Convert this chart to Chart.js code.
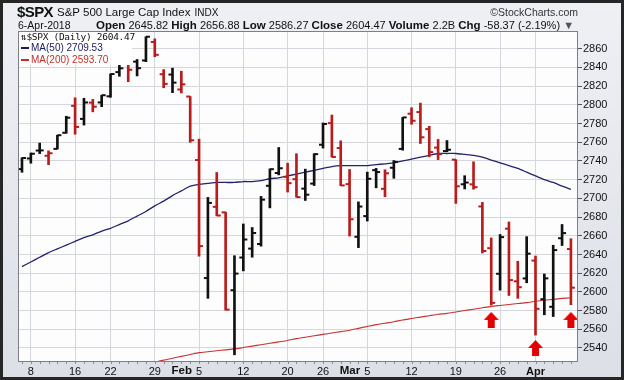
<!DOCTYPE html>
<html>
<head>
<meta charset="utf-8">
<script src="https://cdn.jsdelivr.net/npm/chart.js@4.4.0/dist/chart.umd.min.js"></script>
<style>
body { margin: 0; background: #fff; }
#wrap { position: relative; width: 624px; height: 380px; overflow: hidden;
  background: linear-gradient(#eef0f4, #dcdfe6); box-shadow: inset 0 0 0 3px #262626;
  font-family: "Liberation Sans", Arial, sans-serif; color: #111; }
canvas { position: absolute; left: 0; top: 0; }
.t { position: absolute; white-space: nowrap; }
#sym { left: 17px; top: 3px; font-size: 15px; font-weight: bold; letter-spacing: -0.6px; }
#name { left: 57px; top: 6px; font-size: 11.5px; }
#name span { font-size: 10px; margin-left: 4px; }
#copy { right: 46px; top: 6px; font-size: 10.5px; color: #333; }
#date { left: 18px; top: 19px; font-size: 10.5px; }
#quote { left: 96px; top: 19px; font-size: 11px; }
#quote b { font-size: 11.5px; }
#leg { left: 19px; top: 32px; width: 113px; height: 33px; background: #fff; }
.row { position: absolute; left: 2px; white-space: nowrap; font-size: 10px; }
.row i { display: inline-block; width: 8px; height: 2px; vertical-align: middle; margin-right: 2px; }
#r1 { top: -1px; font-family: "DejaVu Sans Mono", monospace; font-size: 9.5px; letter-spacing: -0.3px; }
#r2 { top: 10px; color: #1c1c5c; }
#r3 { top: 22px; color: #c03030; }
</style>
</head>
<body>
<div id="wrap">
  <canvas id="spx" width="624" height="380"></canvas>
  <div class="t" id="sym">$SPX</div>
  <div class="t" id="name">S&amp;P 500 Large Cap Index<span>INDX</span></div>
  <div class="t" id="copy">&copy;StockCharts.com</div>
  <div class="t" id="date">6-Apr-2018</div>
  <div class="t" id="quote"><b>Open</b> 2645.82 <b>High</b> 2656.88 <b>Low</b> 2586.27 <b>Close</b> 2604.47 <b>Volume</b> 2.2B <b>Chg</b> -58.37 (-2.19%) <span style="color:#555">&#9660;</span></div>
  <div class="t" id="leg">
    <div class="row" id="r1">&#8645;$SPX (Daily) 2604.47</div>
    <div class="row" id="r2"><i style="background:#1c1c5c"></i>MA(50) 2709.53</div>
    <div class="row" id="r3"><i style="background:#c03030"></i>MA(200) 2593.70</div>
  </div>
</div>
<script>
// trading days shown
const days = ['Jan 5','Jan 8','Jan 9','Jan 10','Jan 11','Jan 12','Jan 16','Jan 17','Jan 18','Jan 19',
  'Jan 22','Jan 23','Jan 24','Jan 25','Jan 26','Jan 29','Jan 30','Jan 31','Feb 1','Feb 2',
  'Feb 5','Feb 6','Feb 7','Feb 8','Feb 9','Feb 12','Feb 13','Feb 14','Feb 15','Feb 16',
  'Feb 20','Feb 21','Feb 22','Feb 23','Feb 26','Feb 27','Feb 28','Mar 1','Mar 2',
  'Mar 5','Mar 6','Mar 7','Mar 8','Mar 9','Mar 12','Mar 13','Mar 14','Mar 15','Mar 16',
  'Mar 19','Mar 20','Mar 21','Mar 22','Mar 23','Mar 26','Mar 27','Mar 28','Mar 29',
  'Apr 2','Apr 3','Apr 4','Apr 5','Apr 6'];

const opens = [2731.33,2742.67,2751.15,2745.55,2752.97,2770.18,2798.96,2784.99,2802.40,2802.60,
  2809.16,2835.05,2845.42,2846.24,2847.48,2867.23,2832.74,2832.41,2816.45,2808.92,
  2741.06,2614.78,2690.95,2685.01,2601.78,2636.75,2646.27,2651.21,2713.46,2727.14,
  2722.99,2720.53,2710.42,2715.80,2757.37,2780.45,2753.78,2715.22,2658.89,
  2681.06,2730.18,2710.18,2732.75,2752.91,2790.54,2792.31,2774.06,2754.27,2750.57,
  2741.38,2715.05,2714.99,2691.36,2646.71,2619.35,2667.57,2611.30,2614.41,
  2633.45,2592.17,2584.04,2657.36,2645.82];
const highs = [2743.45,2748.51,2759.14,2750.80,2767.56,2787.85,2807.54,2807.04,2805.83,2810.33,
  2833.03,2842.24,2852.97,2848.56,2872.87,2870.62,2837.75,2839.26,2835.96,2808.92,
  2763.39,2701.04,2727.67,2685.27,2638.67,2672.61,2668.84,2702.10,2731.51,2754.42,
  2737.60,2747.75,2731.26,2747.76,2780.64,2789.15,2761.52,2730.89,2696.25,
  2728.09,2732.08,2730.60,2740.45,2786.57,2796.98,2801.90,2777.11,2763.03,2761.85,
  2741.38,2724.22,2739.14,2695.68,2657.67,2661.36,2674.78,2632.65,2659.07,
  2638.30,2619.14,2649.86,2672.08,2656.88];
const lows = [2727.92,2737.60,2747.86,2736.06,2752.78,2769.64,2768.64,2778.38,2792.56,2798.08,
  2808.12,2830.59,2824.81,2830.94,2846.18,2851.48,2818.27,2813.04,2812.70,2759.97,
  2638.17,2593.07,2681.33,2580.56,2532.69,2622.45,2637.08,2648.87,2689.82,2725.11,
  2706.76,2701.29,2697.77,2713.74,2753.78,2744.22,2713.54,2659.65,2647.32,
  2675.75,2711.26,2701.74,2721.49,2751.54,2779.26,2758.68,2744.38,2741.47,2749.97,
  2694.59,2710.05,2709.79,2641.59,2585.89,2601.81,2596.12,2593.06,2609.72,
  2553.80,2575.49,2573.61,2649.58,2586.27];
const closes = [2743.15,2747.71,2751.29,2748.23,2767.56,2786.24,2776.42,2802.56,2798.03,2810.30,
  2832.97,2839.13,2837.54,2839.25,2872.87,2853.53,2822.43,2823.81,2821.98,2762.13,
  2648.94,2695.14,2681.66,2581.00,2619.55,2656.00,2662.94,2698.63,2731.20,2732.22,
  2716.26,2701.33,2703.96,2747.30,2779.60,2744.28,2713.83,2677.67,2691.25,
  2720.94,2728.12,2726.80,2738.97,2786.57,2783.02,2765.31,2749.48,2747.33,2752.01,
  2712.92,2716.94,2711.93,2643.69,2588.26,2658.55,2612.62,2605.00,2640.87,
  2581.88,2614.45,2644.69,2662.84,2604.47];

const ma50 = [2627,2632,2637,2642,2646,2650,2654,2658,2661,2665,
  2668,2672,2676,2681,2686,2692,2697,2703,2708,2713,
  2715,2716,2717,2717,2717,2718,2718,2719,2721,2722,
  2724,2726,2728,2730,2732,2734,2735,2735,2735,
  2735,2736,2737,2738,2740,2742,2744,2746,2748,2748,
  2748,2747,2746,2744,2741,2738,2735,2732,2728,
  2724,2720,2717,2713,2709.53];
const ma200 = [null,null,null,null,null,null,null,null,null,null,
  null,null,null,null,null,2524.5,2527,2529,2531,2533,
  2535,2536,2537,2538,2539,2540.5,2542,2543.5,2545,2546.5,
  2548,2550,2551.5,2553,2554.5,2556,2557.5,2559,2561,
  2563,2565,2566.5,2568,2570,2571.5,2573,2574.5,2576,2577,
  2578.5,2580,2581.5,2583,2584.5,2585.5,2586.5,2587.5,2588.5,
  2590,2591,2592,2593,2593.7];

// signal arrows under the lows
const arrowDays = ['Mar 23','Apr 2','Apr 6'];
const arrowValues = [2570, 2540, 2570];

// axis ticks
const tickDays = ['Jan 8','Jan 16','Jan 22','Jan 29','Feb 5','Feb 12','Feb 20','Feb 26','Mar 5','Mar 12','Mar 19','Mar 26','Apr 2'];
const tickText = ['8','16','22','29','5','12','20','26','5','12','19','26','Apr'];
const tickMonth = ['','','','','Feb','','','','Mar','','','',''];
const yTicks = [2540,2560,2580,2600,2620,2640,2660,2680,2700,2720,2740,2760,2780,2800,2820,2840,2860];

const FONT = '"Liberation Sans", Arial, sans-serif';
const RED = '#b81c1c', BLACK = '#111111';
const barColors = closes.map((c, i) => (i === 0 || c >= closes[i - 1]) ? BLACK : RED);
const xy = arr => arr.map((v, i) => ({ x: i, y: v }));

function arrowImage() {
  const c = document.createElement('canvas');
  c.width = 15; c.height = 16;
  const g = c.getContext('2d');
  g.fillStyle = '#e30000';
  g.beginPath();
  g.moveTo(0, 8); g.lineTo(7.5, 0); g.lineTo(15, 8); g.lineTo(11, 8);
  g.lineTo(11, 16); g.lineTo(4, 16); g.lineTo(4, 8);
  g.closePath(); g.fill();
  return c;
}

// white plot area, border, minor day ticks and bold month names
const frame = {
  id: 'frame',
  beforeDraw(chart) {
    const a = chart.chartArea, c = chart.ctx;
    c.save(); c.fillStyle = '#fdfdfe';
    c.fillRect(a.left, a.top, a.right - a.left, a.bottom - a.top);
    c.restore();
  },
  afterDraw(chart) {
    const a = chart.chartArea, c = chart.ctx, xs = chart.scales.x;
    c.save();
    c.strokeStyle = '#7c7f88'; c.lineWidth = 1;
    c.strokeRect(a.left + 0.5, a.top + 0.5, a.right - a.left - 1, a.bottom - a.top - 1);
    c.strokeStyle = '#8a8d96';
    c.beginPath();
    days.forEach((d, i) => {
      const px = Math.round(xs.getPixelForValue(i)) + 0.5;
      c.moveTo(px, a.bottom); c.lineTo(px, a.bottom + 2);
    });
    c.stroke();
    c.fillStyle = '#111'; c.textBaseline = 'middle'; c.textAlign = 'right';
    tickMonth.forEach((m, k) => {
      if (!m) return;
      const px = xs.getPixelForValue(days.indexOf(tickDays[k]));
      c.font = '11px ' + FONT;
      const w = c.measureText(tickText[k]).width;
      c.font = 'bold 11.5px ' + FONT;
      c.fillText(m, px - w / 2 - 4, a.bottom + 9);
    });
    c.restore();
  }
};

new Chart(document.getElementById('spx'), {
  type: 'bar',
  data: {
    datasets: [
      { type: 'line', data: xy(ma50), borderColor: '#23236e', borderWidth: 1.3, pointRadius: 0, tension: 0.2, order: 4 },
      { type: 'line', data: xy(ma200), borderColor: '#c83232', borderWidth: 1.1, pointRadius: 0, tension: 0.2, order: 4 },
      { type: 'bar', data: days.map((d, i) => ({ x: i, y: [lows[i], highs[i]] })),
        backgroundColor: barColors, barThickness: 2, order: 3 },
      { type: 'line', data: xy(opens), showLine: false, pointStyle: 'dash', rotation: 180,
        pointRadius: 4, pointBorderWidth: 2, pointBorderColor: barColors, order: 2 },
      { type: 'line', data: xy(closes), showLine: false, pointStyle: 'dash', rotation: 0,
        pointRadius: 4, pointBorderWidth: 2, pointBorderColor: barColors, order: 2 },
      { type: 'line', data: arrowDays.map((d, k) => ({ x: days.indexOf(d), y: arrowValues[k] })),
        showLine: false, pointStyle: arrowImage(), order: 0 }
    ]
  },
  options: {
    responsive: false,
    animation: false,
    events: [],
    layout: { padding: { left: 18, top: 31, right: 0, bottom: 0 } },
    plugins: { legend: { display: false }, tooltip: { enabled: false } },
    scales: {
      x: {
        type: 'linear', min: -0.45, max: 62.8, offset: false,
        afterBuildTicks: s => { s.ticks = tickDays.map(d => ({ value: days.indexOf(d) })); },
        afterFit: s => { s.height = 18; },
        grid: { color: '#d4d7df', offset: false, drawTicks: false, tickLength: 0 },
        border: { display: false },
        ticks: {
          autoSkip: false, maxRotation: 0, padding: 3, color: '#111',
          font: c => ({ family: FONT, size: 11, weight: (c.tick && isNaN(c.tick.label)) ? 'bold' : 'normal' }),
          callback: v => tickText[tickDays.indexOf(days[v])]
        }
      },
      y: {
        position: 'right', min: 2525, max: 2879,
        afterBuildTicks: s => { s.ticks = yTicks.map(v => ({ value: v })); },
        afterFit: s => { s.width = 46; },
        grid: { color: '#d4d7df', tickLength: 4, tickColor: '#555' },
        border: { display: false },
        ticks: { padding: 1, color: '#111', font: { family: FONT, size: 11 }, callback: v => String(v) }
      }
    }
  },
  plugins: [frame]
});
</script>
</body>
</html>
